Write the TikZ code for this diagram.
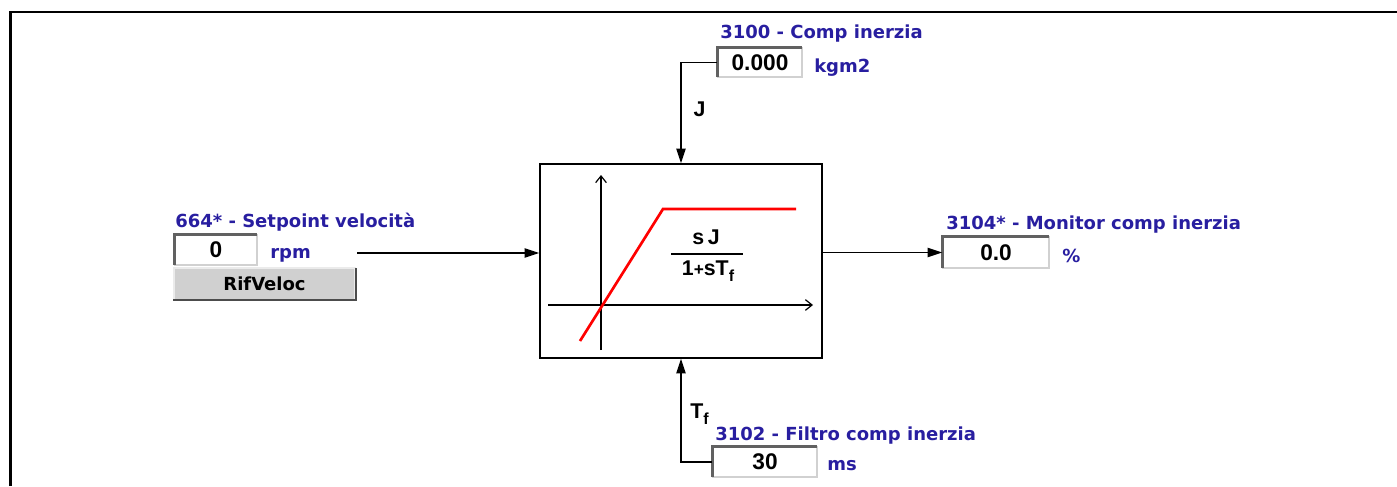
\documentclass[tikz,border=0pt]{standalone}
\usepackage{fontspec}
\setmainfont{DejaVu Sans}
\newfontfamily\arialfont{Liberation Sans}
\usetikzlibrary{arrows.meta,positioning}
\definecolor{parblue}{RGB}{40,30,160}
\definecolor{btngray}{RGB}{208,208,208}
\tikzset{
  parlabel/.style={text=parblue,font=\bfseries\fontsize{13.5}{15}\selectfont,inner sep=0pt,anchor=base west},
  valbox/.style={draw=black!18,fill=white,line width=1.2pt,inner sep=0pt,
    font=\arialfont\bfseries\fontsize{17}{19}\selectfont},
  sunk/.style={line width=2.2pt,black!62},
  btnbox/.style={fill=btngray,draw=black!8,line width=1.2pt,inner sep=0pt,
    font=\bfseries\fontsize{13.5}{15}\selectfont},
  raised/.style={line width=1.6pt,black!70},
  wire/.style={line width=1.1pt},
  axis/.style={line width=0.9pt,-{Straight Barb[length=5pt,width=8pt]}},
  sig/.style={font=\arialfont\bfseries\fontsize{16}{18}\selectfont,inner sep=0pt},
  fracfont/.style={font=\arialfont\bfseries\fontsize{16}{18}\selectfont,inner sep=0pt}
}
\begin{document}
\begin{tikzpicture}[x=0.75pt,y=-0.75pt,>={Triangle[length=11pt,width=7pt]}]
\useasboundingbox (0,0) rectangle (1397,486);
% outer frame
\draw[line width=2.2pt] (10.5,486) |- (1397,12);

% transfer block
\node[draw,line width=1.1pt,minimum width=211.5pt,minimum height=145.5pt] (blk) at (681,261) {};
\draw[axis] (548,305) -- (813,305);
\draw[axis] (601,350) -- (601,175);
\draw[red,line width=2pt] (580,341) -- (663,209) -- (796,209);
\node[fracfont] (num) at (706,237) {s\,J};
\draw[line width=0.8pt] (671,254) -- (743,254);
\node[fracfont] (den) at (708,271) {1{\fontsize{13}{13}\selectfont+}sT\raisebox{-4pt}{\fontsize{12}{12}\selectfont f}};

% parameter fields
\node[valbox,minimum width=63pt,minimum height=21.75pt] (b3100) at (760,62.5) {0.000};
\node[valbox,minimum width=61.5pt,minimum height=22.5pt] (b664) at (216,250) {0};
\node[valbox,minimum width=79.5pt,minimum height=23.25pt] (b3104) at (996,252.5) {0.0};
\node[valbox,minimum width=78pt,minimum height=22.5pt] (b3102) at (765,462) {30};
\foreach \b in {b3100,b664,b3104,b3102}
    \draw[sunk] ([yshift=0.6pt]\b.south west) |- ([xshift=-0.6pt]\b.north east);

\node[btnbox,minimum width=135.75pt,minimum height=24pt] (btn) at (264.5,284) {RifVeloc};
\draw[raised] ([yshift=0.6pt]btn.south west) -| ([yshift=-0.6pt]btn.north east);

% labels and units
\node[parlabel] (l3100) at (720,38) {3100 - Comp inerzia};
\node[parlabel] (u3100) at (814,72) {kgm2};
\node[parlabel] (l664) at (175,227) {664* - Setpoint velocità};
\node[parlabel] (u664) at (270,258) {rpm};
\node[parlabel] (l3104) at (946,229) {3104* - Monitor comp inerzia};
\node[parlabel] (u3104) at (1062,262) {\%};
\node[parlabel] (l3102) at (715,440) {3102 - Filtro comp inerzia};
\node[parlabel] (u3102) at (827,470) {ms};

% signals
\coordinate (vin) at (357,253);
\draw[wire,->] (vin) -- (vin -| blk.west);
\draw[wire,->] (blk.east |- b3104.west) -- (b3104.west);
\draw[wire,->] (b3100.west) -| (blk.north) node[pos=0.73,right=9pt,sig]{J};
\draw[wire,->] (b3102.west) -| (blk.south);
\node[sig,anchor=base west] (tf) at (690,418) {T\raisebox{-5pt}{\fontsize{12}{12}\selectfont f}};
\end{tikzpicture}
\end{document}
